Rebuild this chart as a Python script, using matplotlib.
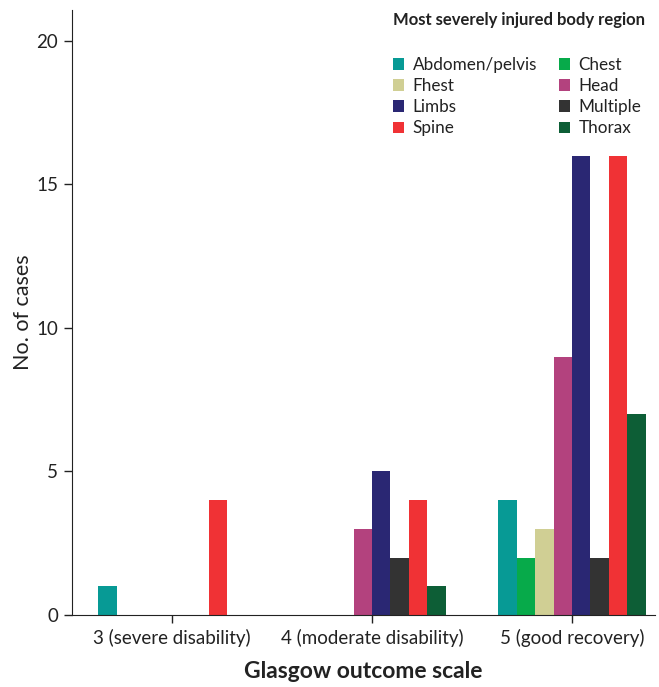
import numpy as np
import matplotlib
matplotlib.use('Agg')
import matplotlib.pyplot as plt
from matplotlib.patches import Patch

plt.rcParams['font.family'] = ['Lato', 'DejaVu Sans']

# data
groups = ['3 (severe disability)', '4 (moderate disability)', '5 (good recovery)']
regions = ['Abdomen/pelvis', 'Chest', 'Fhest', 'Head', 'Limbs', 'Multiple', 'Spine', 'Thorax']
colors = ['#079A95', '#07AA4A', '#D0CF94', '#B3427E', '#2A2773', '#333333', '#F03235', '#0D5E36']
abdomen = [1, 0, 4]
chest = [0, 0, 2]
fhest = [0, 0, 3]
head = [0, 3, 9]
limbs = [0, 5, 16]
multiple = [0, 2, 2]
spine = [4, 4, 16]
thorax = [0, 1, 7]
values = [abdomen, chest, fhest, head, limbs, multiple, spine, thorax]

fig = plt.figure(figsize=(6.59, 6.87), dpi=100)
ax = fig.add_axes([72/659, 1 - 615/687, (655-72)/659, (615-10)/687])

x = np.arange(len(groups))
w = 0.092
n = len(regions)
for i, (vals, c) in enumerate(zip(values, colors)):
    ax.bar(x + (i - (n - 1) / 2) * w, vals, width=w, color=c, linewidth=0)

ax.set_xlim(-0.5, 2.415)
ax.set_ylim(0, 21.08)
ax.set_yticks([0, 5, 10, 15, 20])
ax.set_xticks(x)
ax.set_xticklabels(groups)
ax.tick_params(axis='both', labelsize=13.5, length=6, width=1, color='#222222', labelcolor='#222222', pad=4)
for s in ['top', 'right']:
    ax.spines[s].set_visible(False)
for s in ['left', 'bottom']:
    ax.spines[s].set_color('#222222')
ax.set_ylabel('No. of cases', fontsize=15.5, color='#222222', labelpad=2)
ax.set_xlabel('Glasgow outcome scale', fontsize=16.5, fontweight='bold', color='#222222', labelpad=10)

# legend, filled row-wise
order = [0, 2, 4, 6, 1, 3, 5, 7]
handles = [Patch(facecolor=colors[k], label=regions[k]) for k in order]
fig.text(393/659, 1 - 20/687, 'Most severely injured body region', fontsize=12,
         fontweight='bold', color='#222222', va='center', ha='left')
leg = fig.legend(handles=handles, ncol=2, loc='upper left', bbox_to_anchor=(386/659, 1 - 50/687),
                 frameon=False, fontsize=12.3, handlelength=0.65, handleheight=0.65,
                 handletextpad=0.5, columnspacing=1.3, labelspacing=0.3, borderaxespad=0)
for t in leg.get_texts():
    t.set_color('#222222')

plt.savefig('out.png', dpi=100)
